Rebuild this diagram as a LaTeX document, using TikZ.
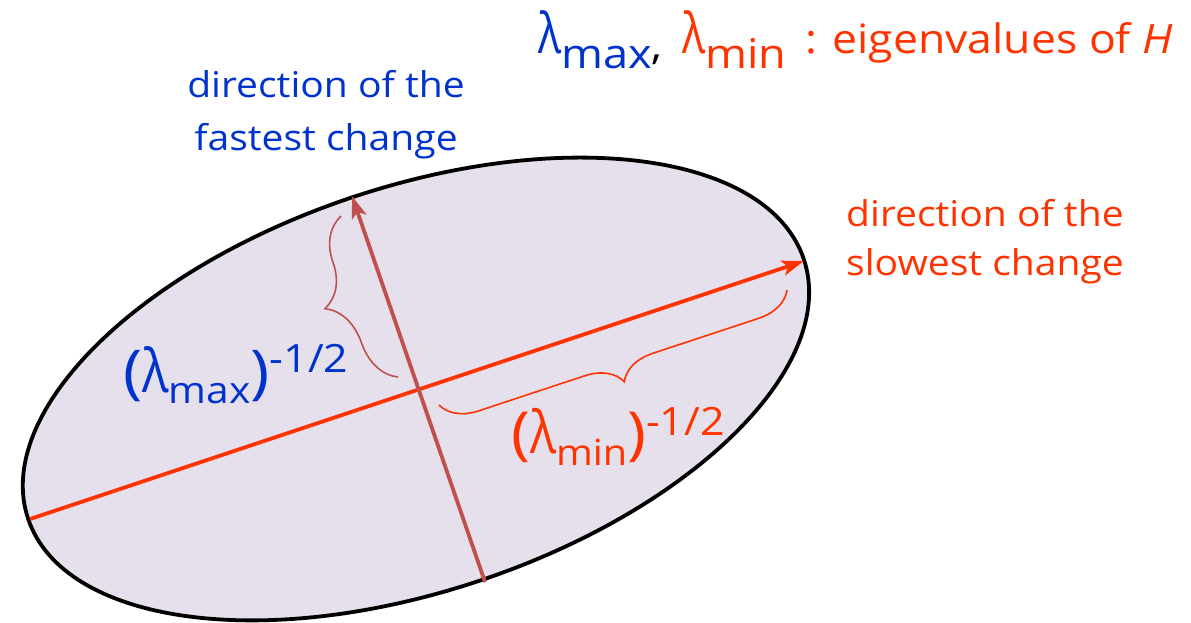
\documentclass[tikz,border=0pt]{standalone}
\usepackage{graphicx}
\usepackage{fontspec}
\setmainfont{Open Sans}[FakeStretch=1.1]
\usetikzlibrary{arrows.meta,decorations.pathreplacing}
\definecolor{tblue}{RGB}{0,51,204}
\definecolor{tred}{RGB}{255,51,0}
\definecolor{tbrown}{RGB}{192,80,77}
\definecolor{tfill}{RGB}{230,224,236}
\newcommand{\fs}[1]{\fontsize{#1}{#1}\selectfont}
\newcommand{\Lam}[2]{{\fs{#1}\scalebox{#2}[1]{λ}}}
\begin{document}
\begin{tikzpicture}[x=1pt,y=-1pt,
  ellipsestyle/.style={draw=black, line width=3.8pt, fill=tfill},
  majaxis/.style={draw=tred, line width=3.8pt, -{Stealth[length=22pt,width=15pt,inset=5pt]}},
  minaxis/.style={draw=tbrown, line width=3.8pt, -{Stealth[length=22pt,width=15pt,inset=5pt]}},
  bracestyle/.style={line width=1.6pt, decorate},
  lbl/.style={inner sep=0pt, anchor=base west},
  bluetxt/.style={inner sep=0pt, text=tblue, font=\fontsize{35.5}{53}\selectfont, align=center, anchor=base},
  redtxt/.style={inner sep=0pt, text=tred, font=\fontsize{35.5}{49}\selectfont, align=left, anchor=base west}]
\fill[white] (0,0) rectangle (1191,622);
\useasboundingbox (0,0) rectangle (1191,622);
% ellipse
\coordinate (C) at (416,389);
\draw[ellipsestyle, rotate around={18.5:(C)}] (C) ellipse [x radius=409pt, y radius=202pt];
% axes
\coordinate (majL) at (30,519);
\coordinate (majR) at (804,261);
\coordinate (minT) at (352,196);
\coordinate (minB) at (485,582);
\draw[majaxis] (majL) -- (majR);
\draw[minaxis] (minB) -- (minT);
% braces
\coordinate (bbA) at (398,377);
\coordinate (bbB) at (341,216);
\coordinate (rbA) at (787,290);
\coordinate (rbB) at (439,405);
\draw[bracestyle, draw=tbrown, decoration={brace, amplitude=46pt, aspect=0.52}] (bbA) -- (bbB);
\draw[bracestyle, draw=tred, decoration={brace, amplitude=36pt, aspect=0.5}] (rbA) -- (rbB);
% title
\node[lbl, text=tblue] (lmaxT) at (538,53) {\Lam{56}{0.7}\raisebox{-15pt}{\fs{41}max}\textcolor{black}{\raisebox{-6pt}{\fs{40},}}};
\node[lbl, text=tred] (lminT) at (682,53) {\Lam{56}{0.7}\raisebox{-15pt}{\fs{41}min}};
\node[lbl, text=tred] (eigT) at (805,53) {\fs{40.5}: eigenvalues of \textit{H}};
% direction labels
\node[bluetxt] (fastT) at (326,150) {direction of the\\fastest change};
\node[redtxt] (slowT) at (846,275) {direction of the\\slowest change};
% axis length labels
\node[lbl, text=tblue] (lmaxL) at (123,392) {\fs{59}(\Lam{60}{0.75}\raisebox{-11pt}{\fs{37}max}\fs{59})\raisebox{20pt}{\fs{39}-1/2}};
\node[lbl, text=tred] (lminL) at (511,453) {\fs{58}(\Lam{59}{0.75}\raisebox{-12pt}{\fs{36}min}\fs{58})\raisebox{18pt}{\fs{39}-1/2}};
\end{tikzpicture}
\end{document}
